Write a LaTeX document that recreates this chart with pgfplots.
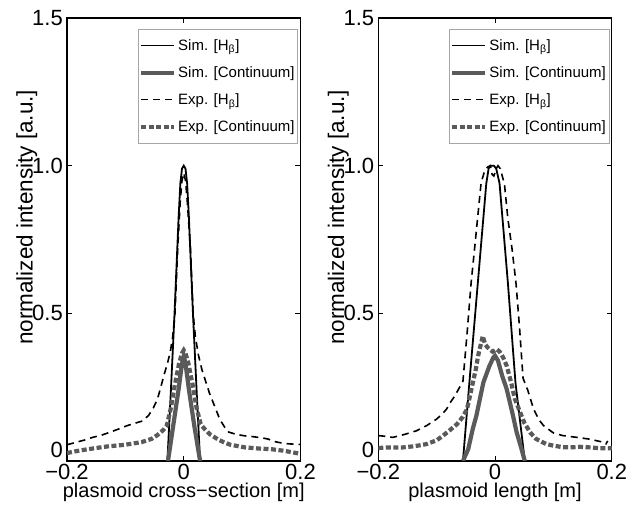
\documentclass[border=0pt]{standalone}
\usepackage{fontspec}
\setmainfont{Liberation Sans}
\usepackage{pgfplots}
\pgfplotsset{compat=1.18}

\definecolor{mgray}{RGB}{90,90,90}

\pgfplotsset{
  panel/.style={
    scale only axis,
    width=233.5pt, height=443pt,
    xmin=-0.2, xmax=0.2, ymin=0, ymax=1.5,
    xtick={-0.2,0,0.2}, xticklabels={−0.2,0,0.2},
    ytick={0,0.5,1,1.5}, yticklabels={\raisebox{3pt}[0pt][0pt]{0},0.5,1.0,1.5},
    tick align=inside, major tick length=5pt,
    every tick/.style={black, line width=0.9pt},
    axis line style={line width=1.3pt},
    tick label style={font=\fontsize{22}{24}\selectfont},
    xticklabel style={anchor=north, inner sep=0pt, yshift=-2.5pt},
    yticklabel style={anchor=east, inner sep=0pt, xshift=-4pt},
    xlabel style={font=\fontsize{20}{22}\selectfont, at={(axis description cs:0.5,0)}, anchor=north, inner sep=0pt, yshift=-22pt},
    ylabel style={font=\fontsize{22.5}{24}\selectfont, at={(axis description cs:-0.126,0.55)}, anchor=south, inner sep=0pt},
    ylabel={normalized intensity [a.u.]},
    legend style={at={(0.989,0.975)}, anchor=north east, draw=gray!70, line width=0.6pt,
      font=\fontsize{15}{17}\selectfont, nodes={inner sep=2pt},
      inner xsep=1pt, inner ysep=8pt, row sep=10.7pt},
    legend cell align=left,
    legend image code/.code={\draw[#1] (0pt,0pt) -- (33pt,0pt);},
  },
  simh/.style={black, line width=1.8pt},
  simc/.style={mgray, line width=4.2pt},
  exph/.style={black, line width=1.6pt, dash pattern=on 7pt off 5pt},
  expc/.style={mgray, line width=4.2pt, dash pattern=on 5pt off 2.5pt},
}

\begin{document}
\begin{tikzpicture}
\begin{axis}[panel, xlabel={plasmoid cross−section [m]}]
\addplot[simh] coordinates {
 (-0.028,0) (-0.022,0.24) (-0.016,0.49) (-0.0087,0.83) (-0.0058,0.94) (-0.003,0.99) (0,1.0)
 (0.003,0.99) (0.0058,0.94) (0.0087,0.83) (0.016,0.49) (0.022,0.24) (0.028,0)
};
\addlegendentry{Sim. [H\textsubscript{β}]}
\addplot[simc] coordinates {
 (-0.027,0) (-0.018,0.12) (-0.009,0.24) (-0.003,0.33) (0,0.355) (0.003,0.33) (0.009,0.24) (0.018,0.12) (0.028,0)
};
\addlegendentry{Sim. [Continuum]}
\addplot[exph] coordinates {
 (-0.2,0.055) (-0.185,0.063) (-0.17,0.071) (-0.156,0.08) (-0.14,0.088) (-0.127,0.097) (-0.112,0.108)
 (-0.098,0.119) (-0.085,0.127) (-0.07,0.136) (-0.06,0.155) (-0.052,0.18) (-0.045,0.21) (-0.04,0.245)
 (-0.034,0.29) (-0.028,0.33) (-0.023,0.37) (-0.019,0.42) (-0.015,0.5) (-0.0104,0.716) (-0.006,0.88)
 (-0.003,0.95) (0,0.975) (0.003,0.95) (0.006,0.88) (0.0116,0.716) (0.016,0.5) (0.02,0.42) (0.025,0.36)
 (0.031,0.31) (0.038,0.267) (0.044,0.23) (0.05,0.2) (0.056,0.17) (0.062,0.14) (0.07,0.115) (0.077,0.098)
 (0.09,0.09) (0.105,0.085) (0.12,0.082) (0.135,0.078) (0.145,0.074) (0.155,0.066) (0.165,0.062)
 (0.18,0.058) (0.2,0.056)
};
\addlegendentry{Exp. [H\textsubscript{β}]}
\addplot[expc] coordinates {
 (-0.2,0.027) (-0.185,0.033) (-0.17,0.038) (-0.15,0.044) (-0.128,0.05) (-0.1,0.055) (-0.072,0.064)
 (-0.055,0.075) (-0.045,0.088) (-0.035,0.105) (-0.029,0.12) (-0.022,0.18) (-0.015,0.26) (-0.008,0.33)
 (-0.003,0.365) (0,0.375) (0.003,0.365) (0.008,0.33) (0.015,0.26) (0.022,0.18) (0.029,0.125)
 (0.035,0.11) (0.045,0.09) (0.058,0.074) (0.07,0.062) (0.08,0.055) (0.105,0.046) (0.13,0.042)
 (0.15,0.04) (0.17,0.035) (0.185,0.03) (0.2,0.024)
};
\addlegendentry{Exp. [Continuum]}
\end{axis}

\begin{axis}[panel, xshift=311.3pt, xlabel={plasmoid length [m]}]
\addplot[simh] coordinates {
 (-0.055,0) (-0.044,0.265) (-0.0295,0.603) (-0.015,0.94) (-0.011,0.99) (-0.008,1.0) (-0.002,1.0)
 (0.002,0.99) (0.0077,0.94) (0.022,0.603) (0.035,0.265) (0.051,0)
};
\addlegendentry{Sim. [H\textsubscript{β}]}
\addplot[simc] coordinates {
 (-0.055,0) (-0.046,0.04) (-0.038,0.11) (-0.032,0.153) (-0.02,0.266) (-0.01,0.32) (-0.003,0.35)
 (0,0.356) (0.005,0.34) (0.012,0.29) (0.02,0.243) (0.03,0.16) (0.037,0.097) (0.044,0.05) (0.051,0)
};
\addlegendentry{Sim. [Continuum]}
\addplot[exph] coordinates {
 (-0.2,0.086) (-0.19,0.084) (-0.175,0.08) (-0.155,0.09) (-0.135,0.102) (-0.117,0.12) (-0.1,0.142)
 (-0.09,0.16) (-0.083,0.176) (-0.076,0.2) (-0.069,0.22) (-0.062,0.245) (-0.055,0.27) (-0.048,0.43)
 (-0.041,0.603) (-0.035,0.72) (-0.03,0.82) (-0.024,0.94) (-0.019,0.975) (-0.013,0.995) (-0.008,1.0)
 (-0.005,0.97) (-0.002,0.965) (0.002,0.99) (0.005,1.0) (0.009,0.99) (0.013,0.96) (0.016,0.94)
 (0.022,0.82) (0.029,0.72) (0.036,0.6) (0.042,0.45) (0.048,0.28) (0.056,0.24) (0.066,0.176)
 (0.075,0.14) (0.083,0.12) (0.1,0.095) (0.116,0.086) (0.14,0.08) (0.162,0.074) (0.18,0.066)
 (0.186,0.063) (0.19,0.058) (0.193,0.068)
};
\addlegendentry{Exp. [H\textsubscript{β}]}
\addplot[expc] coordinates {
 (-0.2,0.044) (-0.18,0.046) (-0.158,0.046) (-0.138,0.05) (-0.118,0.057) (-0.1,0.07) (-0.089,0.086)
 (-0.077,0.105) (-0.065,0.125) (-0.055,0.15) (-0.048,0.176) (-0.043,0.22) (-0.038,0.266)
 (-0.033,0.31) (-0.029,0.356) (-0.025,0.39) (-0.021,0.423) (-0.017,0.395) (-0.013,0.385)
 (-0.009,0.378) (-0.004,0.37) (0.003,0.378) (0.008,0.37) (0.014,0.35) (0.02,0.322) (0.027,0.27)
 (0.034,0.21) (0.043,0.165) (0.05,0.13) (0.06,0.097) (0.07,0.075) (0.088,0.057) (0.1,0.052)
 (0.115,0.047) (0.129,0.046) (0.145,0.048) (0.163,0.046) (0.18,0.043) (0.2,0.043)
};
\addlegendentry{Exp. [Continuum]}
\end{axis}
\pgfresetboundingbox
\path[use as bounding box] (-67pt,-47pt) rectangle (571pt,461pt);
\end{tikzpicture}
\end{document}
